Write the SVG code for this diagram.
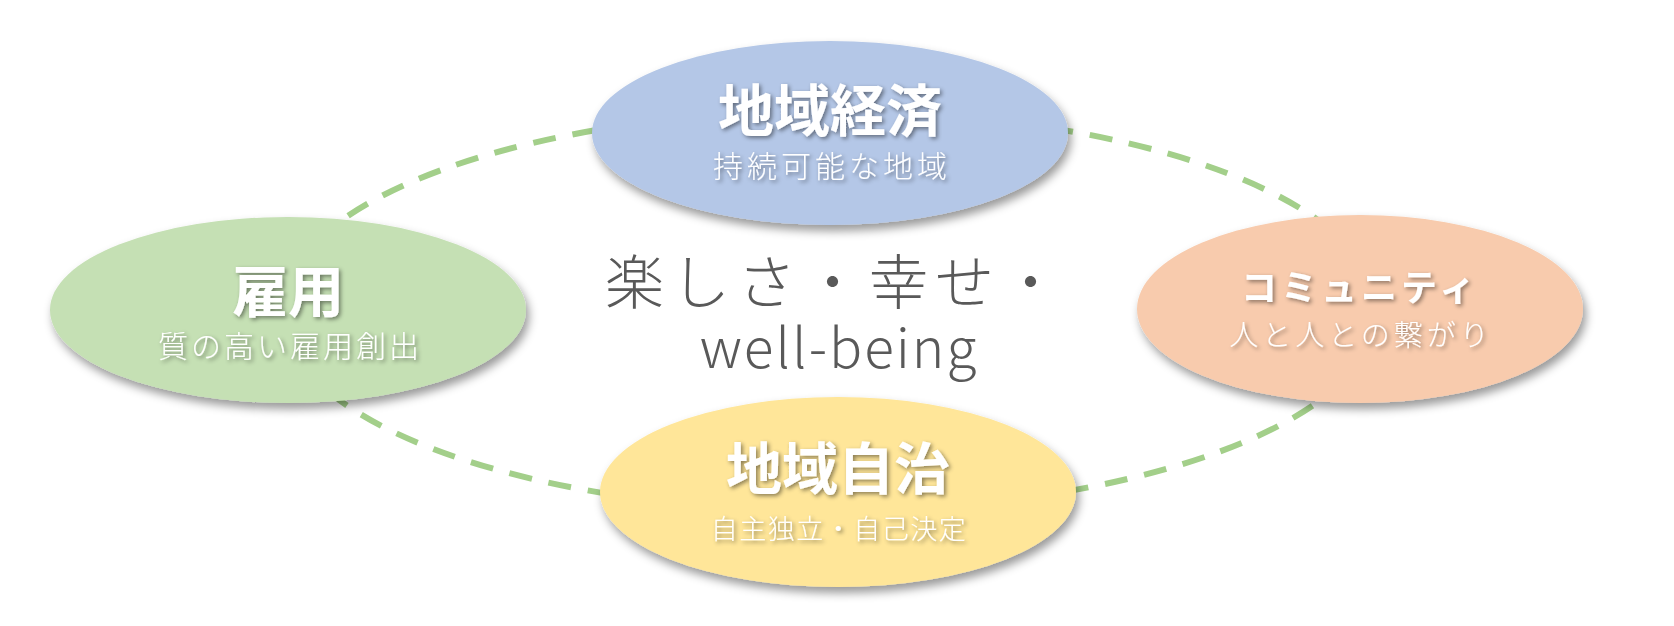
<svg xmlns="http://www.w3.org/2000/svg" width="1674" height="626" viewBox="0 0 1674 626">
<defs>
<filter id="shadow" x="-10%" y="-10%" width="125%" height="135%">
<feDropShadow dx="3" dy="6" stdDeviation="5" flood-color="#000" flood-opacity="0.4"/>
</filter>
<filter id="tshadow" x="-10%" y="-20%" width="130%" height="150%">
<feDropShadow dx="2" dy="2" stdDeviation="2" flood-color="#000" flood-opacity="0.45"/>
</filter>
</defs>
<style>
.title{font-family:"Noto Sans CJK JP","Noto Sans",sans-serif;font-weight:700;fill:#ffffff;text-anchor:middle}
.sub{font-family:"Noto Sans CJK JP","Noto Sans",sans-serif;font-weight:300;fill:#ffffff;text-anchor:middle}
.center{font-family:"Noto Sans CJK JP","Noto Sans",sans-serif;font-weight:300;fill:#595959;text-anchor:middle}
.ring{fill:none;stroke:#A3CF8A;stroke-width:6;stroke-dasharray:23 17}
</style>
<rect width="1674" height="626" fill="#ffffff"/>
<g id="connectors">
<ellipse class="ring" cx="830" cy="311" rx="548" ry="200"/>
</g>
<g id="center-text">
<text class="center" x="836" y="304" font-size="59" letter-spacing="7">楽しさ・幸せ・</text>
<text class="center" x="839" y="368" font-size="55" letter-spacing="2">well-being</text>
</g>
<g id="node-economy">
<ellipse cx="830" cy="133" rx="238" ry="92" fill="#B4C7E7" filter="url(#shadow)"/>
<text class="title" x="830" y="131" font-size="56" filter="url(#tshadow)">地域経済</text>
<text class="sub" x="832" y="177" font-size="30" letter-spacing="4" filter="url(#tshadow)">持続可能な地域</text>
</g>
<g id="node-employment">
<ellipse cx="288" cy="310" rx="238" ry="93" fill="#C5E0B4" filter="url(#shadow)"/>
<text class="title" x="288" y="312" font-size="56" filter="url(#tshadow)">雇用</text>
<text class="sub" x="290" y="357" font-size="30" letter-spacing="3" filter="url(#tshadow)">質の高い雇用創出</text>
</g>
<g id="node-community">
<ellipse cx="1360" cy="309" rx="223" ry="94" fill="#F8CBAD" filter="url(#shadow)"/>
<text class="title" x="1360" y="301" font-size="36" letter-spacing="4" filter="url(#tshadow)">コミュニティ</text>
<text class="sub" x="1361" y="346" font-size="29" letter-spacing="4" filter="url(#tshadow)">人と人との繋がり</text>
</g>
<g id="node-autonomy">
<ellipse cx="838" cy="492" rx="238" ry="95" fill="#FFE699" filter="url(#shadow)"/>
<text class="title" x="838" y="489" font-size="56" filter="url(#tshadow)">地域自治</text>
<text class="sub" x="839" y="539" font-size="27" letter-spacing="1.5" filter="url(#tshadow)">自主独立・自己決定</text>
</g>
</svg>
